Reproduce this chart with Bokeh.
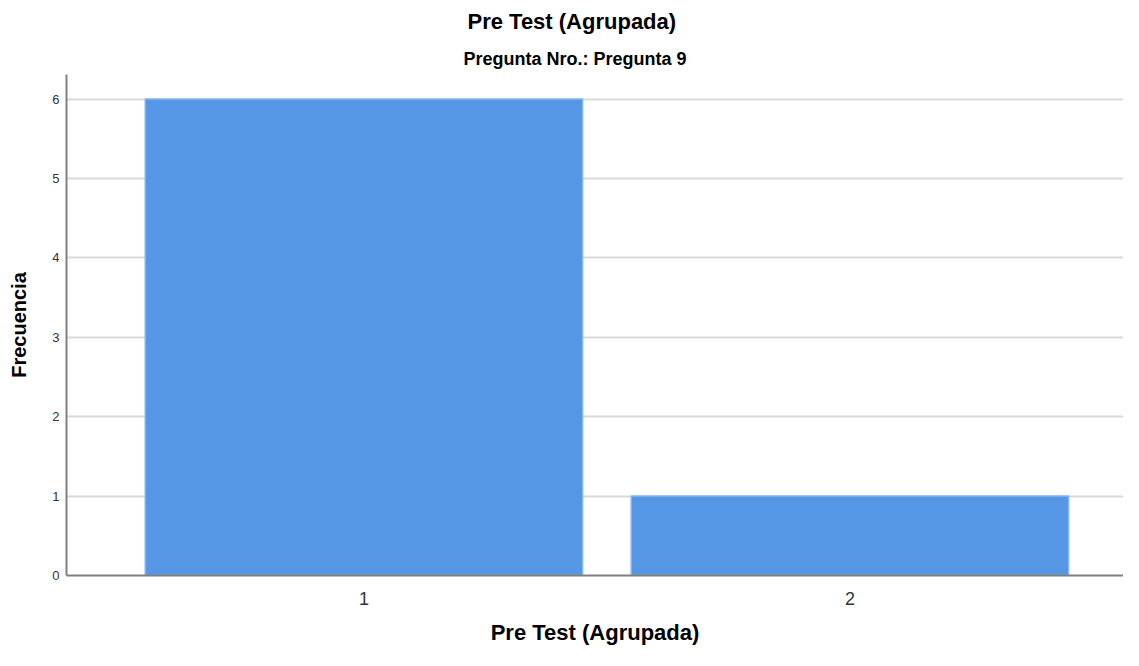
from bokeh.plotting import figure
from bokeh.models import Range1d, Title, FixedTicker
from bokeh.embed import file_html
from bokeh.resources import INLINE

categories = [1, 2]
frequencies = [6, 1]
y_ticks = [0, 1, 2, 3, 4, 5, 6]
title_text = "Pre Test (Agrupada)"
subtitle_text = "Pregunta Nro.: Pregunta 9"
x_label = "Pre Test (Agrupada)"
y_label = "Frecuencia"

FONT = "Liberation Sans"

p = figure(width=1123, height=650, output_backend="svg", toolbar_location=None,
           x_range=Range1d(0.388, 2.563), y_range=Range1d(0, 6.31),
           min_border_left=66, min_border_right=0, min_border_top=74, min_border_bottom=75)
p.title.visible = False
p.outline_line_color = None

p.add_layout(Title(text=subtitle_text, align="left", text_font=FONT, text_font_size="18px",
                   text_font_style="bold", text_color="#000000", standoff=12, offset=397), "above")
p.add_layout(Title(text=title_text, align="left", text_font=FONT, text_font_size="22px",
                   text_font_style="bold", text_color="#000000", standoff=13, offset=401), "above")

p.vbar(x=categories, top=frequencies, width=0.9, fill_color="#5596e5",
       line_color="#86b6ee", line_width=1.5)

p.xgrid.visible = False
p.ygrid.ticker = FixedTicker(ticks=y_ticks)
p.ygrid.grid_line_color = "#d9d9d9"
p.ygrid.grid_line_width = 2

p.xaxis.ticker = FixedTicker(ticks=categories)
p.yaxis.ticker = FixedTicker(ticks=y_ticks)
for ax in (p.xaxis[0], p.yaxis[0]):
    ax.axis_line_color = "#808080"
    ax.axis_line_width = 2
    ax.major_tick_line_color = None
    ax.minor_tick_line_color = None
    ax.major_tick_out = 0
    ax.major_tick_in = 0
    ax.minor_tick_out = 0
    ax.minor_tick_in = 0
    ax.major_label_text_font = FONT
    ax.major_label_text_color = "#333333"
    ax.axis_label_text_font = FONT
    ax.axis_label_text_font_style = "bold"
    ax.axis_label_text_color = "#000000"

p.xaxis.major_label_text_font_size = "18px"
p.xaxis.major_label_standoff = 16
p.xaxis.axis_label = x_label
p.xaxis.axis_label_text_font_size = "22px"
p.xaxis.axis_label_standoff = 12

p.yaxis.major_label_text_font_size = "13px"
p.yaxis.major_label_standoff = 7
p.yaxis.axis_label = y_label
p.yaxis.axis_label_text_font_size = "20px"
p.yaxis.axis_label_standoff = 19

open("out.html", "w").write(file_html(p, INLINE))
